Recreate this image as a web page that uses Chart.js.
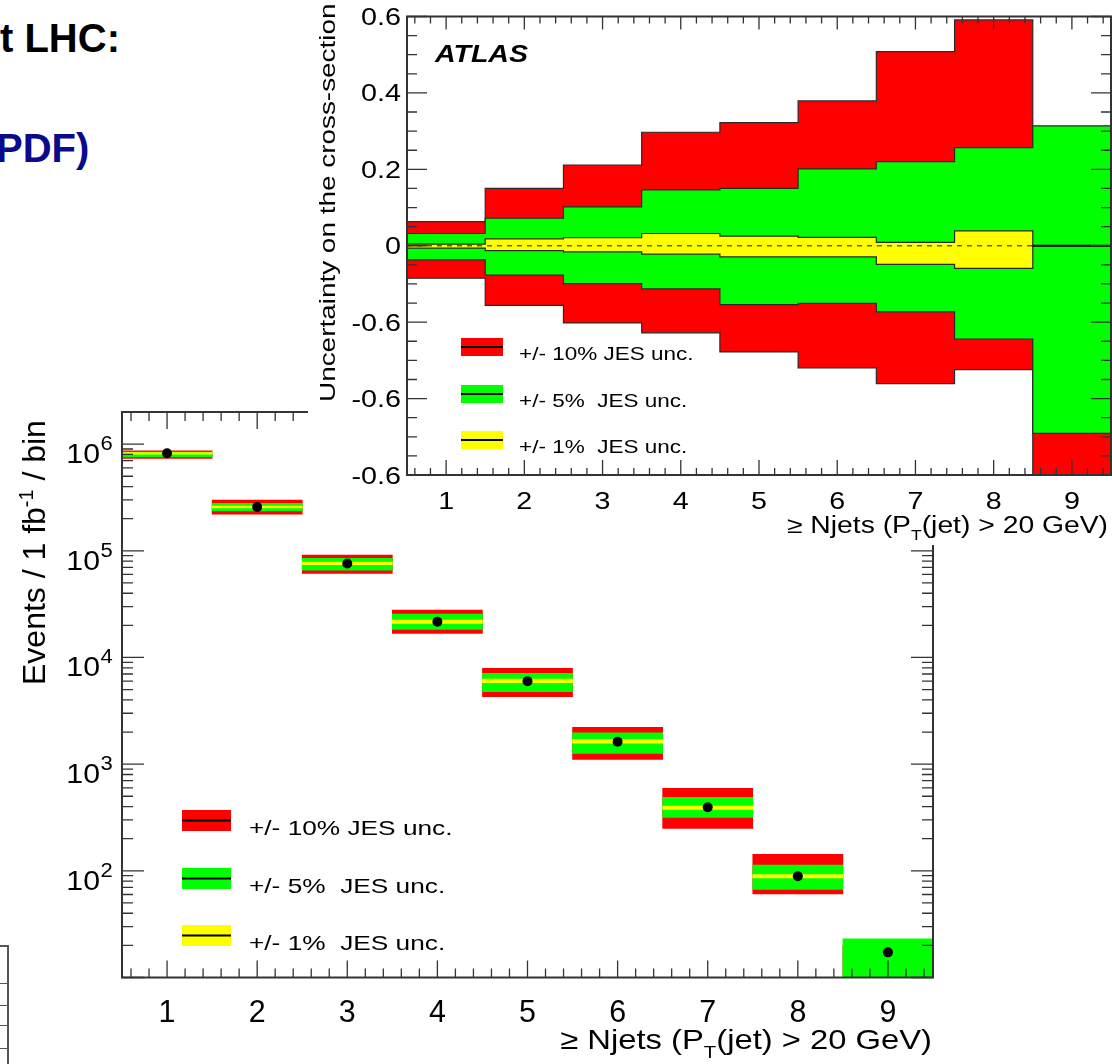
<!DOCTYPE html>
<html>
<head>
<meta charset="utf-8">
<script src="https://cdn.jsdelivr.net/npm/chart.js@4/dist/chart.umd.min.js"></script>
<style>
  html, body { margin: 0; padding: 0; background: #fff; }
  body { width: 1112px; height: 1064px; position: relative; overflow: hidden; font-family: "Liberation Sans", Arial, sans-serif; }
  .slide { position: absolute; font-size: 40px; font-weight: bold; line-height: 1; white-space: nowrap; }
  .frag { position: absolute; background: #555; }
  canvas { position: absolute; left: 0; top: 0; }
</style>
</head>
<body>
<div class="slide" style="left:0px;top:18px;color:#000">t LHC:</div>
<div class="slide" style="left:-4px;top:128px;color:#0a0a8c">PDF)</div>
<!-- edge of another plot on the slide -->
<div class="frag" style="left:0;top:945px;width:9px;height:2px"></div>
<div class="frag" style="left:7px;top:945px;width:2px;height:119px"></div>
<div class="frag" style="left:0;top:983px;width:8px;height:1px"></div>
<div class="frag" style="left:0;top:1005px;width:8px;height:1px"></div>
<div class="frag" style="left:0;top:1025px;width:8px;height:1px"></div>
<div class="frag" style="left:0;top:1048px;width:8px;height:1px"></div>
<canvas id="lower" width="1112" height="1064"></canvas>
<canvas id="upper" width="1112" height="1064"></canvas>
<script>
// ---- data ----
const bins = [1, 2, 3, 4, 5, 6, 7, 8, 9];
const binLabels = ['1', '2', '3', '4', '5', '6', '7', '8', '9'];

// upper panel: relative uncertainty on the cross-section
const relUp10 = [0.063, 0.150, 0.211, 0.297, 0.322, 0.379, 0.508, 0.591, 0.300];
const relDn10 = [-0.085, -0.156, -0.202, -0.228, -0.278, -0.320, -0.361, -0.324, -0.600];
const relUp5  = [0.032, 0.072, 0.102, 0.146, 0.150, 0.201, 0.220, 0.257, 0.314];
const relDn5  = [-0.037, -0.077, -0.099, -0.113, -0.154, -0.151, -0.173, -0.244, -0.491];
const relUp1  = [0.004, 0.018, 0.021, 0.032, 0.025, 0.022, 0.009, 0.039, 0];
const relDn1  = [-0.006, -0.013, -0.016, -0.022, -0.029, -0.029, -0.049, -0.059, 0];
const relTicks = [-0.6, -0.4, -0.2, 0, 0.2, 0.4, 0.6];
const relTickLabels = ['-0.6', '-0.6', '-0.6', '0', '0.2', '0.4', '0.6'];

// lower panel: events / 1 fb-1 / bin
const events  = [8.2e5, 2.57e5, 7.6e4, 2.16e4, 6.0e3, 1.62e3, 394, 89, 17.2];
const evLo10  = [7.35e5, 2.21e5, 6.14e4, 1.68e4, 4.28e3, 1.11e3, 250, 60.7, 6];
const evHi10  = [8.65e5, 2.98e5, 9.12e4, 2.78e4, 7.9e3, 2.21e3, 593, 143, 20];
const evLo5   = [7.6e5, 2.36e5, 6.59e4, 1.83e4, 4.77e3, 1.26e3, 317, 67.1, 8];
const evHi5   = [8.41e5, 2.78e5, 8.49e4, 2.55e4, 7.1e3, 1.97e3, 489, 113, 23];
const evLo1   = [8.05e5, 2.52e5, 7.4e4, 2.09e4, 5.79e3, 1.57e3, 377, 85.7, null];
const evHi1   = [8.35e5, 2.62e5, 7.83e4, 2.24e4, 6.28e3, 1.71e3, 405, 92, null];
const logTicks = [1e2, 1e3, 1e4, 1e5, 1e6];
const logTickExp = ['2', '3', '4', '5', '6'];

const legendLabels = ['+/- 10% JES unc.', '+/- 5%  JES unc.', '+/- 1%  JES unc.'];
const bandColors = ['#ff0000', '#00ff00', '#ffff00'];

// ---- helpers ----
function fnt(size, weight, style) {
  return (style || 'normal') + ' ' + (weight || 'normal') + ' ' + size + 'px "Liberation Sans", Arial, sans-serif';
}

// text runs along a baseline: [text, relative size, baseline shift]
function runs(ctx, parts, x, y, o) {
  ctx.save();
  ctx.translate(x, y);
  if (o.rot) ctx.rotate(o.rot);
  ctx.scale(o.sx || 1, 1);
  ctx.fillStyle = o.color || '#000';
  ctx.textBaseline = 'alphabetic';
  ctx.textAlign = 'left';
  let total = 0;
  parts.forEach(function(p) { ctx.font = fnt(o.size * p[1], o.weight, o.style); total += ctx.measureText(p[0]).width; });
  let cx = o.align === 'right' ? -total : (o.align === 'center' ? -total / 2 : 0);
  parts.forEach(function(p) {
    ctx.font = fnt(o.size * p[1], o.weight, o.style);
    ctx.fillText(p[0], cx, p[2]);
    cx += ctx.measureText(p[0]).width;
  });
  ctx.restore();
}
function txt(ctx, s, x, y, o) { runs(ctx, [[s, 1, 0]], x, y, o); }

function frameAndTicks(chart, spec) {
  const ctx = chart.ctx, a = chart.chartArea;
  const sx = chart.scales.x, sy = chart.scales.y;
  ctx.save();
  ctx.strokeStyle = '#333';
  ctx.lineWidth = 1.3;
  ctx.beginPath();
  spec.xTicks.forEach(function(t) {
    t.values.forEach(function(v) {
      const p = sx.getPixelForValue(v);
      ctx.moveTo(p, a.bottom); ctx.lineTo(p, a.bottom - t.len);
      ctx.moveTo(p, a.top); ctx.lineTo(p, a.top + t.lenTop);
    });
  });
  spec.yTicks.forEach(function(t) {
    t.values.forEach(function(v) {
      const p = sy.getPixelForValue(v);
      ctx.moveTo(a.left, p); ctx.lineTo(a.left + t.len, p);
      ctx.moveTo(a.right, p); ctx.lineTo(a.right - t.len, p);
    });
  });
  ctx.stroke();
  ctx.lineWidth = 2;
  ctx.strokeRect(a.left, a.top, a.right - a.left, a.bottom - a.top);
  ctx.restore();
}

const edges = bins.map(function(b) { return b - 0.5; }).concat([bins[bins.length - 1] + 0.5]);
const xMinor = [];
for (let k = 3; k <= 47; k++) { if (k % 5 !== 0) xMinor.push(k / 5); }

// ---- upper panel ----
function histo(vals) {
  // one point per bin edge, last value repeated to close the last bin
  return edges.map(function(x, i) { return { x: x, y: vals[Math.min(i, vals.length - 1)] }; });
}
function bandLine(vals, order, fillColor) {
  return {
    data: histo(vals), stepped: true, tension: 0,
    borderColor: '#2a2a2a', borderWidth: 1.2, pointRadius: 0, order: order,
    fill: fillColor ? '-1' : false, backgroundColor: fillColor || 'transparent'
  };
}

const relMinor = [];
for (let k = -12; k <= 12; k++) { if (k % 4 !== 0) relMinor.push(k * 0.05); }

const upperDeco = {
  id: 'upperDeco',
  beforeDraw(chart) {
    const ctx = chart.ctx;
    ctx.save(); ctx.fillStyle = '#fff'; ctx.fillRect(308, 0, 804, 545); ctx.restore();
  },
  afterDatasetsDraw(chart) {
    frameAndTicks(chart, {
      xTicks: [{ values: bins, len: 15, lenTop: 13 }, { values: xMinor, len: 7, lenTop: 7 }],
      yTicks: [{ values: relTicks, len: 20 }, { values: relMinor, len: 10 }]
    });
  },
  afterDraw(chart) {
    const ctx = chart.ctx, sx = chart.scales.x, sy = chart.scales.y;
    relTicks.forEach(function(v, i) {
      txt(ctx, relTickLabels[i], 401, sy.getPixelForValue(v) + 8.5, { size: 23, sx: 1.25, align: 'right' });
    });
    bins.forEach(function(b, i) {
      txt(ctx, binLabels[i], sx.getPixelForValue(b), 509, { size: 24.5, sx: 1.17, align: 'center' });
    });
    runs(ctx, [['\u2265 Njets (P', 1, 0], ['T', 0.62, 7], ['(jet) > 20 GeV)', 1, 0]], 1108, 533, { size: 23, sx: 1.23, align: 'right' });
    txt(ctx, 'Uncertainty on the cross-section', 335, 402, { size: 22.5, sx: 1.24, rot: -Math.PI / 2 });
    txt(ctx, 'ATLAS', 435, 61.7, { size: 23, sx: 1.24, weight: 'bold', style: 'italic' });
    [338, 385, 431].forEach(function(y, i) {
      ctx.fillStyle = bandColors[i]; ctx.fillRect(461, y, 42, 18);
      ctx.fillStyle = '#000'; ctx.fillRect(461, y + 8, 42, 2);
      txt(ctx, legendLabels[i], 519, y + 22, { size: 18.6, sx: 1.21 });
    });
  }
};

new Chart(document.getElementById('upper'), {
  type: 'line',
  data: {
    datasets: [
      bandLine(relUp10, 5), bandLine(relDn10, 6, bandColors[0]),
      bandLine(relUp5, 3),  bandLine(relDn5, 4, bandColors[1]),
      bandLine(relUp1, 1),  bandLine(relDn1, 2, bandColors[2]),
      { data: [{ x: edges[0], y: 0 }, { x: edges[8], y: 0 }], borderColor: 'rgba(70,70,40,0.85)', borderWidth: 1.5, borderDash: [5, 5], pointRadius: 0, order: 0 },
      { data: [{ x: edges[8], y: 0 }, { x: edges[9], y: 0 }], borderColor: '#000', borderWidth: 2, pointRadius: 0, order: 0 }
    ]
  },
  options: {
    responsive: false, animation: false, devicePixelRatio: 1, events: [],
    layout: { padding: { left: 407, top: 16.5, right: 1, bottom: 589 } },
    plugins: { legend: { display: false }, tooltip: { enabled: false } },
    scales: {
      x: { type: 'linear', min: 0.5, max: 9.5, display: false },
      y: { type: 'linear', min: -0.6, max: 0.6, display: false }
    }
  },
  plugins: [upperDeco]
});

// ---- lower panel ----
function floating(lo, hi) {
  const out = [];
  bins.forEach(function(b, i) { if (lo[i] !== null) out.push({ x: b, y: [lo[i], hi[i]] }); });
  return out;
}
const logMajor = [1e1, 1e2, 1e3, 1e4, 1e5, 1e6];
const logMinor = [];
logMajor.forEach(function(d) { for (let k = 2; k <= 9; k++) { if (k * d <= 2e6) logMinor.push(k * d); } });

const lowerDeco = {
  id: 'lowerDeco',
  afterDatasetsDraw(chart) {
    frameAndTicks(chart, {
      xTicks: [{ values: bins, len: 17, lenTop: 17 }, { values: xMinor, len: 9, lenTop: 9 }],
      yTicks: [{ values: logMajor, len: 22 }, { values: logMinor, len: 11 }]
    });
  },
  afterDraw(chart) {
    const ctx = chart.ctx, sx = chart.scales.x, sy = chart.scales.y;
    logTicks.forEach(function(v, i) {
      const p = sy.getPixelForValue(v);
      txt(ctx, '10', 100, p + 19, { size: 27, sx: 1.12, align: 'right' });
      txt(ctx, logTickExp[i], 100.5, p + 6, { size: 20, sx: 1.1 });
    });
    bins.forEach(function(b, i) {
      txt(ctx, binLabels[i], sx.getPixelForValue(b), 1021.7, { size: 32, sx: 0.95, align: 'center' });
    });
    runs(ctx, [['\u2265 Njets (P', 1, 0], ['T', 0.62, 9], ['(jet) > 20 GeV)', 1, 0]], 932, 1048.5, { size: 28, sx: 1.17, align: 'right' });
    runs(ctx, [['Events / 1 fb', 1, 0], ['-1', 0.62, -12], [' / bin', 1, 0]], 45, 685, { size: 32, rot: -Math.PI / 2 });
    [810, 868, 925].forEach(function(y, i) {
      ctx.fillStyle = bandColors[i]; ctx.fillRect(182, y, 49, 21);
      ctx.fillStyle = '#000'; ctx.fillRect(182, y + 9.5, 49, 2);
      txt(ctx, legendLabels[i], 249, y + 25, { size: 21, sx: 1.25 });
    });
  }
};

new Chart(document.getElementById('lower'), {
  type: 'bar',
  data: {
    datasets: [
      { type: 'line', data: bins.map(function(b, i) { return { x: b, y: events[i] }; }), showLine: false,
        pointRadius: 5, pointBackgroundColor: '#000', pointBorderWidth: 0, order: 0 },
      { data: floating(evLo1, evHi1), backgroundColor: bandColors[2], order: 1 },
      { data: floating(evLo5, evHi5), backgroundColor: bandColors[1], order: 2 },
      { data: floating(evLo10, evHi10), backgroundColor: bandColors[0], order: 3 }
    ]
  },
  options: {
    responsive: false, animation: false, devicePixelRatio: 1, events: [],
    layout: { padding: { left: 122, top: 412, right: 179, bottom: 86.5 } },
    datasets: { bar: { grouped: false, barPercentage: 1, categoryPercentage: 1, borderWidth: 0 } },
    plugins: { legend: { display: false }, tooltip: { enabled: false } },
    scales: {
      x: {
        type: 'linear', min: 0.5, max: 9.5, offset: false, display: false,
        // one tick per bin so the bar ruler spans a full bin
        afterBuildTicks: function(scale) { scale.ticks = bins.map(function(b) { return { value: b }; }); }
      },
      y: { type: 'logarithmic', min: 10, max: 2e6, display: false }
    }
  },
  plugins: [lowerDeco]
});
</script>
</body>
</html>
